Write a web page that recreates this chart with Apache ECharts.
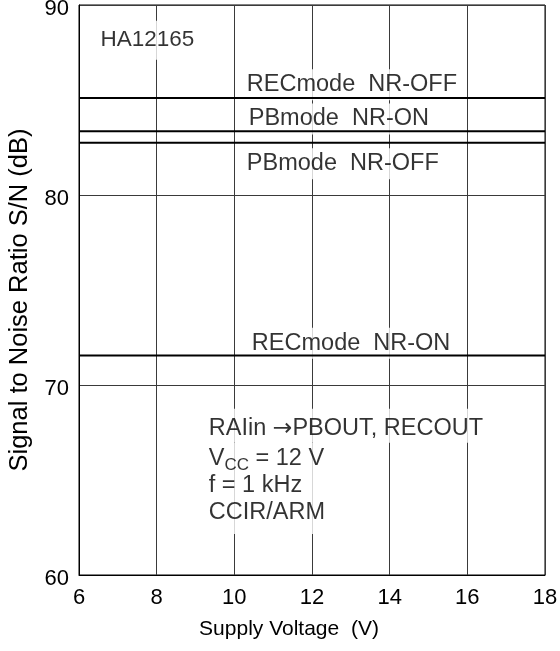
<!DOCTYPE html>
<html>
<head>
<meta charset="utf-8">
<script src="https://cdn.jsdelivr.net/npm/echarts@6/dist/echarts.min.js"></script>
<style>
html,body{margin:0;padding:0;background:#fff;}
#chart{width:560px;height:651px;}
</style>
</head>
<body>
<div id="chart"></div>
<script>
// Data
const xRange = [6, 18];
const xTicks = [6, 8, 10, 12, 14, 16, 18];
const yTicks = [60, 70, 80, 90];
const seriesNames = ['RECmode  NR-OFF', 'PBmode  NR-ON', 'PBmode  NR-OFF', 'RECmode  NR-ON'];
const seriesValues = [85.1, 83.35, 82.75, 71.55];
// label anchor points (data units) for each series label
const labelX = [10.27, 10.32, 10.27, 10.4];
const labelY = [85.8, 84.0, 81.65, 72.2];
const chipName = 'HA12165';
const chipPos = [6.5, 88.15];
const condLine1 = 'RAIin {arr|\u2192}PBOUT, RECOUT';
const condLine1Pos = [9.29, 67.85];
const condRest = ['V{sub|CC} = 12 V', 'f = 1 kHz', 'CCIR/ARM'];
const condRestPos = [9.29, 64.55];

const FONT = 'Liberation Sans, Arial, sans-serif';
const chart = echarts.init(document.getElementById('chart'), null, {renderer: 'canvas'});

const lineSeries = seriesNames.map((n, i) => ({
  name: n,
  type: 'line',
  data: [[xRange[0], seriesValues[i]], [xRange[1], seriesValues[i]]],
  symbol: 'none',
  lineStyle: {color: '#000', width: 2},
  z: 6,
  silent: true
}));

const labelStyleBase = {
  show: true,
  position: 'inside',
  align: 'left',
  verticalAlign: 'middle',
  fontFamily: FONT,
  fontSize: 23.5,
  color: '#000',
  backgroundColor: '#fff',
  padding: [4, 2, 3, 2]
};

const labelData = seriesNames.map((n, i) => ({
  value: [labelX[i], labelY[i]],
  label: Object.assign({}, labelStyleBase, {formatter: n})
}));
labelData.push({value: chipPos, label: Object.assign({}, labelStyleBase, {formatter: chipName, fontSize: 22.5, padding: [10, 2, 6, 2]})});
labelData.push({value: condLine1Pos, label: Object.assign({}, labelStyleBase, {
  formatter: condLine1, padding: [8, 2, 2, 2],
  rich: {arr: {fontFamily: 'DejaVu Sans', fontSize: 23.5, color: '#000'}}
})});
labelData.push({value: condRestPos, label: Object.assign({}, labelStyleBase, {
  formatter: condRest.join('\n'),
  lineHeight: 27,
  padding: [2, 4, 8, 2],
  rich: {sub: {fontFamily: FONT, fontSize: 17, verticalAlign: 'bottom', lineHeight: 22, padding: [0, 0, -2, 0], color: '#000'}}
})});

const option = {
  animation: false,
  backgroundColor: '#fff',
  grid: {left: 79, right: 15, top: 5, bottom: 76, show: true, borderColor: '#000', borderWidth: 1,
         containLabel: false, outerBoundsMode: 'none'},
  xAxis: {
    type: 'value', min: xRange[0], max: xRange[1], interval: 2,
    name: 'Supply Voltage  (V)', nameLocation: 'middle', nameGap: 44,
    nameTextStyle: {fontFamily: FONT, fontSize: 21, color: '#000', padding: [0, 46, 0, 0]},
    axisLine: {show: true, lineStyle: {color: '#000', width: 1}},
    axisTick: {show: false},
    axisLabel: {fontFamily: FONT, fontSize: 22, color: '#000', margin: 12},
    splitLine: {show: true, lineStyle: {color: '#3a3a3a', width: 1}}
  },
  yAxis: {
    type: 'value', min: 60, max: 90, interval: 10,
    name: 'Signal to Noise Ratio S/N (dB)', nameLocation: 'middle', nameGap: 46,
    nameTextStyle: {fontFamily: FONT, fontSize: 25.5, color: '#000', padding: [0, 20, 0, 0]},
    axisLine: {show: true, lineStyle: {color: '#000', width: 1}},
    axisTick: {show: false},
    axisLabel: {fontFamily: FONT, fontSize: 22, color: '#000', margin: 10, verticalAlign: 'top', lineHeight: 8},
    splitLine: {show: true, lineStyle: {color: '#3a3a3a', width: 1}}
  },
  series: lineSeries.concat([{
    type: 'scatter',
    symbolSize: 0,
    data: labelData,
    z: 4,
    silent: true
  }])
};
chart.setOption(option);
</script>
</body>
</html>
